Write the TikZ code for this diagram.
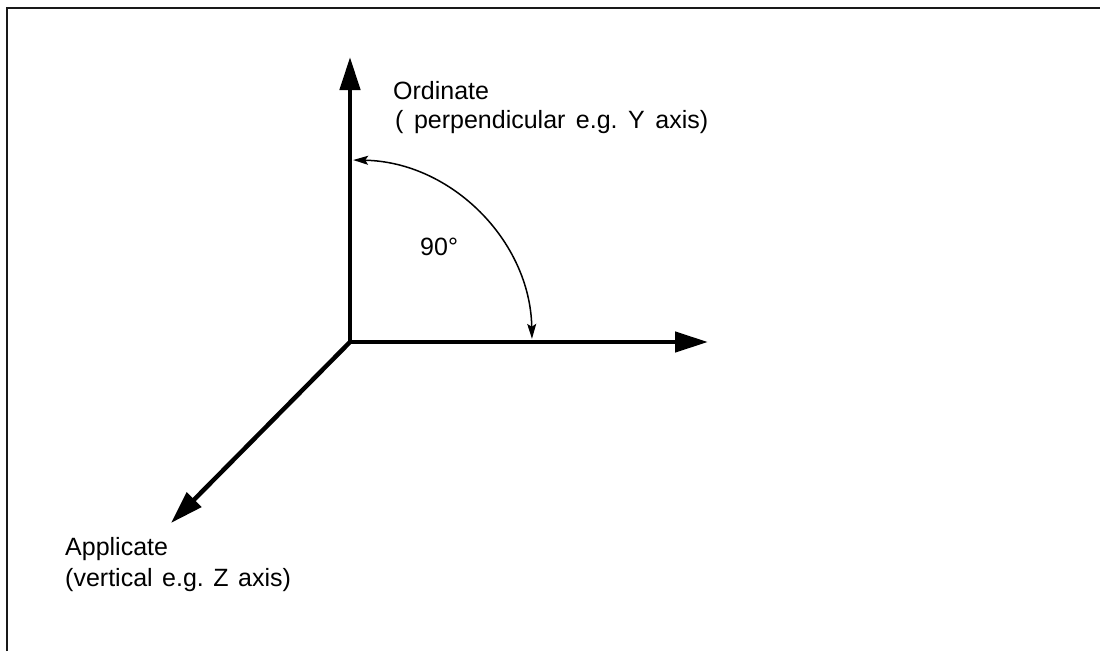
\documentclass[tikz,border=0pt]{standalone}
\usepackage{fontspec}
\setmainfont{Liberation Sans}
\usetikzlibrary{arrows.meta}
\begin{document}
\frenchspacing
\begin{tikzpicture}[x=1pt,y=1pt,
  axis/.style={line width=4.5pt,-{Triangle[length=33pt,width=20pt]}},
  anglearc/.style={line width=1.5pt,{Stealth[length=15pt,width=9pt,inset=3pt]}-{Stealth[length=15pt,width=9pt,inset=3pt]}},
  lbl/.style={inner sep=0pt,anchor=base west,font=\fontsize{25}{30}\selectfont},
  frame/.style={line width=2pt,draw=black!90}]
\useasboundingbox (0,0) rectangle (1100,-651);
\draw[frame] (7,-651) -- (7,-8) -- (1100,-8);
\coordinate (O) at (350,-342);
\coordinate (Y) at (350,-57);
\coordinate (X) at (708,-342);
\coordinate (Z) at (171,-523);
\draw[axis] (O) -- (Y);
\draw[axis] (O) -- (X);
\draw[axis] (O) -- (Z);
\coordinate (A1) at ([shift={(89:182)}]O);
\draw[anglearc] (A1) arc[start angle=89, end angle=1, radius=182];
\node[lbl] (ord1) at (393,-99) {Ordinate};
\node[lbl] (ord2) at (395,-128) {\spaceskip=10.5pt plus 1pt( perpendicular e.g. Y axis)};
\node[lbl] (ang) at (420,-255) {90°};
\node[lbl] (app1) at (65,-555) {Applicate};
\node[lbl] (app2) at (65,-586) {\spaceskip=9.5pt plus 1pt(vertical e.g. Z axis)};
\end{tikzpicture}
\end{document}
